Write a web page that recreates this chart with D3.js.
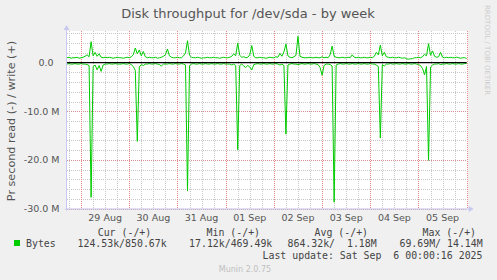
<!DOCTYPE html>
<html>
<head>
<meta charset="utf-8">
<script src="https://cdn.jsdelivr.net/npm/d3@7"></script>
<style>
body { margin: 0; background: #f0f0f0; }
svg { display: block; }
text { font-family: "DejaVu Sans", sans-serif; fill: #555; }
.mono { font-family: "DejaVu Sans Mono", monospace; white-space: pre; fill: #444; }
</style>
</head>
<body>
<svg id="chart" width="497" height="280"></svg>
<script>
// one sample per hour, first one at 28 Aug 17:00, values in MB/s
let sampleStart = Date.UTC(2025, 7, 28, 17);

let writeMB = [
  1.0, 1.1, 0.9, 1.0, 1.0, 1.1, 0.9, 1.0, 1.1, 1.3,
  1.6, 1.2, 4.3, 1.4, 2.1, 1.3, 1.8, 1.1, 1.0, 1.1,
  1.0, 1.1, 1.0, 0.9, 1.0, 1.1, 1.0, 1.0, 0.9, 1.0,
  1.1, 1.0, 1.2, 1.6, 3.0, 1.8, 2.6, 1.4, 2.3, 1.2,
  1.0, 1.1, 1.0, 1.0, 1.1, 0.9, 1.0, 1.1, 1.3, 1.6,
  2.8, 1.4, 1.1, 1.0, 1.0, 1.1, 1.0, 1.0, 1.4, 2.0,
  4.5, 1.5, 1.1, 1.0, 1.0, 1.1, 1.0, 0.9, 1.0, 1.0,
  1.1, 1.0, 1.0, 1.1, 1.0, 1.0, 0.9, 1.0, 1.1, 1.0,
  1.0, 1.1, 1.3, 1.8, 1.4, 4.0, 1.5, 1.1, 1.2, 1.0,
  1.1, 1.6, 3.5, 1.3, 1.0, 1.0, 1.1, 1.0, 1.0, 0.9,
  1.0, 1.1, 1.0, 1.0, 1.2, 1.1, 1.9, 1.3, 2.2, 3.8,
  1.4, 1.1, 1.0, 1.2, 1.5, 5.4, 1.3, 1.1, 1.0, 1.0,
  1.0, 1.1, 1.0, 1.0, 1.1, 1.0, 1.0, 1.2, 1.0, 1.1,
  1.0, 1.6, 3.4, 1.3, 1.1, 1.0, 1.0, 1.1, 1.0, 1.0,
  1.1, 1.0, 1.6, 1.1, 1.0, 1.1, 1.0, 1.0, 1.1, 1.0,
  1.0, 1.1, 1.0, 1.3, 2.1, 1.6, 3.6, 1.4, 2.1, 1.2,
  1.1, 1.0, 1.1, 1.0, 1.0, 1.1, 1.0, 0.9, 1.0, 0.8,
  0.7, 0.8, 0.8, 1.0, 1.0, 1.1, 1.0, 1.2, 1.7, 1.4,
  3.9, 1.5, 2.4, 1.3, 1.1, 1.2, 2.1, 1.1, 1.0, 1.1,
  1.0, 1.1, 1.0, 1.0, 1.1, 1.0, 0.9, 1.0, 1.0, 0.85
];

let readMB = [
  -0.3, -0.2, -0.3, -0.3, -0.2, -0.3, -0.3, -0.2, -0.3, -0.3,
  -0.4, -0.6, -27.7, -0.8, -0.5, -1.5, -0.6, -1.8, -0.5, -0.3,
  -0.3, -0.2, -0.3, -0.3, -0.2, -0.3, -0.3, -0.3, -0.2, -0.3,
  -0.3, -0.2, -0.4, -0.8, -1.6, -16.2, -0.9, -0.4, -0.6, -0.3,
  -0.3, -0.2, -0.3, -0.3, -0.2, -0.3, -0.4, -0.7, -0.3, -0.3,
  -0.3, -0.2, -0.3, -0.3, -0.2, -0.3, -0.3, -0.2, -0.3, -0.5,
  -26.4, -0.6, -0.3, -0.2, -0.3, -0.3, -0.2, -0.3, -0.3, -0.2,
  -0.3, -0.3, -0.2, -0.3, -0.3, -0.2, -0.3, -0.3, -0.2, -0.3,
  -0.3, -0.3, -0.5, -0.3, -0.6, -17.9, -0.6, -0.3, -0.7, -1.0,
  -0.6, -0.9, -1.5, -0.4, -0.3, -0.2, -0.3, -0.3, -0.2, -0.3,
  -0.3, -0.2, -0.3, -0.3, -0.2, -0.3, -0.5, -0.3, -0.6, -14.7,
  -0.5, -0.3, -0.2, -0.3, -0.3, -0.4, -0.3, -0.2, -0.3, -0.3,
  -0.2, -0.3, -0.3, -0.2, -0.3, -0.4, -1.0, -2.6, -0.6, -0.3,
  -0.3, -0.4, -0.7, -28.7, -0.5, -0.3, -0.2, -0.3, -0.3, -0.2,
  -0.3, -0.3, -0.2, -0.3, -0.3, -0.2, -0.3, -0.3, -0.2, -0.3,
  -0.3, -0.2, -0.3, -0.3, -0.5, -0.8, -15.5, -0.4, -0.7, -0.3,
  -0.3, -0.2, -0.3, -0.3, -0.2, -0.3, -0.3, -0.2, -0.3, -0.3,
  -0.2, -0.3, -0.3, -0.2, -0.3, -0.4, -0.6, -1.2, -2.5, -0.8,
  -20.1, -0.9, -0.5, -0.3, -0.3, -0.2, -0.4, -0.3, -0.3, -0.2,
  -0.3, -0.3, -0.2, -0.3, -0.3, -0.2, -0.3, -0.3, -0.2, -0.12
];

let dayLabels = ["29 Aug", "30 Aug", "31 Aug", "01 Sep", "02 Sep", "03 Sep", "04 Sep", "05 Sep"];
let yTickValues = [0, -10, -20, -30];
let yTickLabels = ["0.0", "-10.0 M", "-20.0 M", "-30.0 M"];

let legendHeads = ["Cur (-/+)", "Min (-/+)", "Avg (-/+)", "Max (-/+)"];
let legendValues = ["124.53k/850.67k", "17.12k/469.49k", "864.32k/  1.18M", "69.69M/ 14.14M"];

let svg = d3.select("#chart");

let plotLeft = 67, plotRight = 466.7, plotTop = 31, plotBottom = 208.5;

let x = d3.scaleUtc()
  .domain([new Date(sampleStart), new Date(Date.UTC(2025, 8, 6, 0))])
  .range([plotLeft, plotRight]);

let y = d3.scaleLinear()
  .domain([-30, 6.5])
  .range([plotBottom, plotTop]);

let hourAt = i => new Date(sampleStart + i * 3600e3);

// plot canvas
svg.append("rect")
  .attr("x", plotLeft).attr("y", plotTop)
  .attr("width", plotRight - plotLeft + 1).attr("height", plotBottom - plotTop)
  .attr("fill", "#fff");

// grid: minor
let minorX = d3.utcHour.every(6).range(x.domain()[0], x.domain()[1])
  .filter(d => d.getUTCHours() != 0);
svg.append("g").selectAll("line")
  .data(minorX)
  .enter().append("line")
  .attr("x1", d => Math.round(x(d)) + 0.5).attr("x2", d => Math.round(x(d)) + 0.5)
  .attr("y1", plotTop).attr("y2", plotBottom)
  .attr("stroke", "#c8c8c8").attr("stroke-dasharray", "1,1");

let minorY = d3.range(6, -31, -2).filter(v => v % 10 != 0);
svg.append("g").selectAll("line")
  .data(minorY)
  .enter().append("line")
  .attr("x1", plotLeft).attr("x2", plotRight)
  .attr("y1", d => Math.round(y(d)) + 0.5).attr("y2", d => Math.round(y(d)) + 0.5)
  .attr("stroke", "#c8c8c8").attr("stroke-dasharray", "1,1");

// grid: major (days, 10M)
let days = d3.utcDay.range(x.domain()[0], new Date(+x.domain()[1] + 1));
svg.append("g").selectAll("line")
  .data(days)
  .enter().append("line")
  .attr("x1", d => Math.round(x(d)) + 0.5).attr("x2", d => Math.round(x(d)) + 0.5)
  .attr("y1", plotTop).attr("y2", plotBottom)
  .attr("stroke", "#f08888").attr("stroke-dasharray", "1,1");

svg.append("g").selectAll("line")
  .data(yTickValues.slice(1))
  .enter().append("line")
  .attr("x1", plotLeft).attr("x2", plotRight)
  .attr("y1", d => Math.round(y(d)) + 0.5).attr("y2", d => Math.round(y(d)) + 0.5)
  .attr("stroke", "#d89090").attr("stroke-dasharray", "1,1");

// axes
let axisCol = "#c8c8f0";
svg.append("line")
  .attr("x1", plotLeft - 0.5).attr("x2", plotLeft - 0.5)
  .attr("y1", plotTop - 2).attr("y2", plotBottom + 2)
  .attr("stroke", axisCol);
svg.append("line")
  .attr("x1", plotLeft - 2).attr("x2", plotRight + 4)
  .attr("y1", plotBottom + 0.5).attr("y2", plotBottom + 0.5)
  .attr("stroke", axisCol);
svg.append("path")
  .attr("d", `M${plotLeft - 3.5},${plotTop - 1}L${plotLeft - 0.5},${plotTop - 6}L${plotLeft + 2.5},${plotTop - 1}Z`)
  .attr("fill", axisCol);
svg.append("path")
  .attr("d", `M${plotRight + 2},${plotBottom - 2.5}L${plotRight + 7},${plotBottom + 0.5}L${plotRight + 2},${plotBottom + 3.5}Z`)
  .attr("fill", axisCol);

// tick labels
svg.append("g").selectAll("text")
  .data(yTickValues)
  .enter().append("text")
  .attr("x", (d, i) => i == 0 ? 53.5 : 59.5)
  .attr("y", d => y(d) + 3.5)
  .attr("text-anchor", "end")
  .style("font-size", "9.5px")
  .text((d, i) => yTickLabels[i]);

svg.append("g").selectAll("text")
  .data(dayLabels)
  .enter().append("text")
  .attr("x", (d, i) => x(d3.utcHour.offset(days[i], 12)))
  .attr("y", 221)
  .attr("text-anchor", "middle")
  .style("font-size", "9.5px")
  .text(d => d);

// series
let line = d3.line()
  .x((d, i) => x(hourAt(i)))
  .y(d => y(d));

svg.append("path")
  .datum(readMB)
  .attr("d", line)
  .attr("fill", "none")
  .attr("stroke", "#00cc00")
  .attr("stroke-width", 1);

svg.append("path")
  .datum(writeMB)
  .attr("d", line)
  .attr("fill", "none")
  .attr("stroke", "#00cc00")
  .attr("stroke-width", 1);

// zero line
svg.append("line")
  .attr("x1", plotLeft).attr("x2", plotRight)
  .attr("y1", y(0)).attr("y2", y(0))
  .attr("stroke", "#000").attr("stroke-width", 1.2);

// titles
svg.append("text")
  .attr("x", 248).attr("y", 17.5)
  .attr("text-anchor", "middle")
  .style("font-size", "13px")
  .text("Disk throughput for /dev/sda - by week");

svg.append("text")
  .attr("transform", "translate(15,121) rotate(-90)")
  .attr("text-anchor", "middle")
  .style("font-size", "11.2px")
  .text("Pr second read (-) / write (+)");

svg.append("text")
  .attr("transform", "translate(485,5) rotate(90)")
  .style("font-size", "7px")
  .style("fill", "#cccccc")
  .text("RRDTOOL / TOBI OETIKER");

// legend
svg.append("rect")
  .attr("x", 14).attr("y", 240)
  .attr("width", 6).attr("height", 6)
  .attr("fill", "#00cc00");

svg.append("text")
  .classed("mono", true)
  .attr("x", 26).attr("y", 246.7)
  .style("font-size", "9.9px")
  .text("Bytes");

let headCenters = [124.5, 233.3, 341.3, 449.3];
svg.append("g").selectAll("text")
  .data(legendHeads)
  .enter().append("text")
  .classed("mono", true)
  .attr("x", (d, i) => headCenters[i])
  .attr("y", 235.7)
  .attr("text-anchor", "middle")
  .style("font-size", "9.9px")
  .text(d => d);

let valueEnds = [166.7, 272.3, 376.7, 482.7];
svg.append("g").selectAll("text")
  .data(legendValues)
  .enter().append("text")
  .classed("mono", true)
  .attr("x", (d, i) => valueEnds[i])
  .attr("y", 246.7)
  .attr("text-anchor", "end")
  .style("font-size", "9.9px")
  .text(d => d);

svg.append("text")
  .classed("mono", true)
  .attr("x", 482.5).attr("y", 259.3)
  .attr("text-anchor", "end")
  .style("font-size", "9.9px")
  .text("Last update: Sat Sep  6 00:00:16 2025");

svg.append("text")
  .attr("x", 245).attr("y", 272)
  .attr("text-anchor", "middle")
  .style("font-size", "8px")
  .style("fill", "#c0c0c0")
  .text("Munin 2.0.75");
</script>
</body>
</html>
